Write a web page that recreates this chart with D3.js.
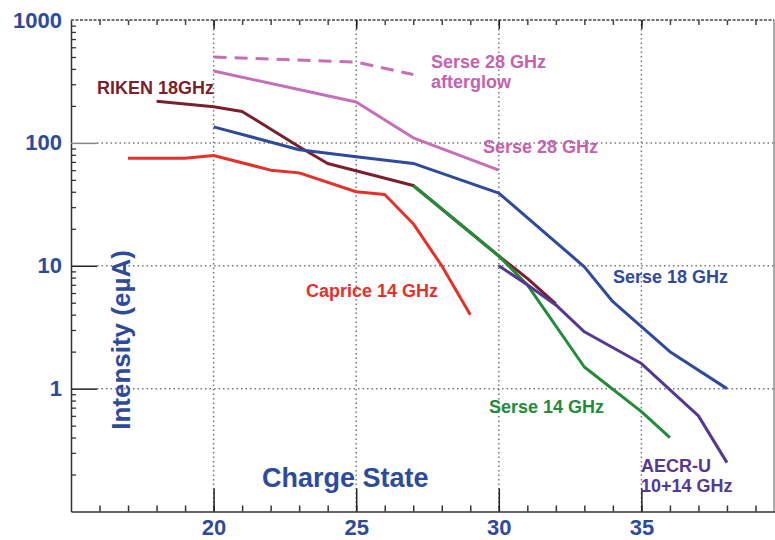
<!DOCTYPE html>
<html><head><meta charset="utf-8">
<script src="https://cdn.jsdelivr.net/npm/d3@7"></script>
<style>
body{margin:0;background:#fff;}
svg{display:block;}
text{font-family:"Liberation Sans",Arial,sans-serif;font-weight:bold;}
</style></head>
<body><svg id="c" width="775" height="540"></svg>
<script>
// ---- data ----
const xMinorTicks = [16,17,18,19,20,21,22,23,24,25,26,27,28,29,30,31,32,33,34,35,36,37,38,39];
const xMajorTicks = [20,25,30,35];
const yMajorTicks = [1,10,100,1000];
const yGridTicks = [1,10,100];

const afterglowQ = [20,25,27];
const afterglowI = [500,455,360];
const serse28Q = [20,25,27,30];
const serse28I = [385,215,110,60];
const rikenQ = [18,20,21,23,24,27,30,31,32];
const rikenI = [218,197,180,93,68,45,12,7.9,4.9];
const serse18Q = [20,23,25,27,30,33,34,35,36,38];
const serse18I = [135,88,77,68,39,9.8,5.1,3.2,2.0,1.0];
const capriceQ = [17,19,20,22,23,25,26,27,28,29];
const capriceI = [75,75,79,60,57,40,38,22,10,4];
const serse14Q = [27,30,31,33,35,36];
const serse14I = [45,12,7,1.5,0.65,0.4];
const aecrQ = [30,31,32,33,35,37,38];
const aecrI = [10,7,4.8,2.9,1.6,0.6,0.25];

const axisBlue = "#2e4b9b";
const series = [
  {q:capriceQ, v:capriceI, color:"#e6302b"},
  {q:rikenQ, v:rikenI, color:"#7a1f2b"},
  {q:serse18Q, v:serse18I, color:"#2f4a9c"},
  {q:serse14Q, v:serse14I, color:"#238b3a"},
  {q:aecrQ, v:aecrI, color:"#553894"},
  {q:serse28Q, v:serse28I, color:"#c46fb7"},
  {q:afterglowQ, v:afterglowI, color:"#c46fb7", dash:"13,8"}
];
const labels = [
  {t:["RIKEN 18GHz"], x:97, y:94, color:"#7a1f2b"},
  {t:["Serse 28 GHz","afterglow"], x:431, y:68, color:"#c462b0"},
  {t:["Serse 28 GHz"], x:483, y:153, color:"#c462b0"},
  {t:["Serse 18 GHz"], x:613, y:283, color:"#2f4a9c"},
  {t:["Caprice 14 GHz"], x:306, y:297, color:"#e6302b"},
  {t:["Serse 14 GHz"], x:489, y:413, color:"#238b3a"},
  {t:["AECR-U","10+14 GHz"], x:641, y:472, color:"#553894"}
];

// ---- chart ----
const svg = d3.select("#c");
const x = d3.scaleLinear().domain([15,40]).range([71,784]);
const y = d3.scaleLog().domain([0.1,1000]).range([511.5,20]);
const L = x(15), R = 774, T = y(1000), B = y(0.1);

// grid
const g = svg.append("g");
g.selectAll(".vg").data(xMajorTicks).enter().append("line")
  .attr("x1",d=>x(d)).attr("x2",d=>x(d)).attr("y1",T).attr("y2",B)
  .attr("stroke","#777").attr("stroke-width",1.5).attr("stroke-dasharray","1.5,3");
g.selectAll(".hg").data(yGridTicks).enter().append("line")
  .attr("x1",L+26).attr("x2",R).attr("y1",d=>y(d)).attr("y2",d=>y(d))
  .attr("stroke","#777").attr("stroke-width",1.5).attr("stroke-dasharray","1.5,3");

// frame top and right
svg.append("line").attr("x1",L).attr("x2",R).attr("y1",T).attr("y2",T)
  .attr("stroke","#444").attr("stroke-width",1.5).attr("stroke-dasharray","3,1.5");
svg.append("line").attr("x1",R).attr("x2",R).attr("y1",T).attr("y2",B)
  .attr("stroke","#555").attr("stroke-width",1);
// top minor ticks
svg.append("g").attr("transform",`translate(0,${T})`)
  .call(d3.axisTop(x).tickValues(xMinorTicks).tickSize(-5).tickFormat(""))
  .call(a=>{a.select(".domain").remove();a.selectAll("line").attr("stroke","#444").attr("stroke-width",1.5);});
svg.append("g").attr("transform",`translate(0,${T})`)
  .call(d3.axisTop(x).tickValues(xMajorTicks).tickSize(-9).tickFormat(""))
  .call(a=>{a.select(".domain").remove();a.selectAll("line").attr("stroke","#222").attr("stroke-width",1.5);});

// bottom axis
const bx = svg.append("g").attr("transform",`translate(0,${B})`);
bx.call(d3.axisBottom(x).tickValues(xMinorTicks).tickSizeInner(-6).tickSizeOuter(0).tickFormat(""))
  .call(a=>{a.select(".domain").attr("stroke","#333").attr("stroke-width",1.5);a.selectAll("line").attr("stroke","#333").attr("stroke-width",1.5);});
svg.append("g").attr("transform",`translate(0,${B})`)
  .call(d3.axisBottom(x).tickValues(xMajorTicks).tickSizeInner(-23).tickSizeOuter(0).tickPadding(8).tickFormat(d3.format("d")))
  .call(a=>{a.select(".domain").remove();a.selectAll("line").attr("stroke","#222").attr("stroke-width",1.5);
    a.selectAll("text").attr("fill",axisBlue).style("font-size","22px").style("font-weight","bold").style("font-family","Liberation Sans, Arial, sans-serif");});

// left axis
const minorY = [];
[0.1,1,10,100].forEach(b=>{for(let k=2;k<=9;k++) minorY.push(b*k);});
svg.append("g").attr("transform",`translate(${L},0)`)
  .call(d3.axisLeft(y).tickValues(minorY).tickSizeInner(-5).tickSizeOuter(0).tickFormat(""))
  .call(a=>{a.select(".domain").attr("stroke","#333").attr("stroke-width",1.5);a.selectAll("line").attr("stroke","#333").attr("stroke-width",1.3);});
svg.append("g").attr("transform",`translate(${L},0)`)
  .call(d3.axisLeft(y).tickValues(yMajorTicks).tickSizeInner(-26).tickSizeOuter(0).tickPadding(9).tickFormat(d3.format("d")))
  .call(a=>{a.select(".domain").remove();
    a.selectAll("line").attr("stroke",d=>d===100?"#888":"#222").attr("stroke-width",1.5).attr("opacity",d=>d===1000?0:1);
    a.selectAll("text").attr("fill",axisBlue).style("font-size","22px").style("font-weight","bold").style("font-family","Liberation Sans, Arial, sans-serif");});

// lines
const line = d3.line().x(d=>x(d[0])).y(d=>y(d[1]));
series.forEach(s=>{
  svg.append("path").datum(s.q.map((q,i)=>[q,s.v[i]]))
    .attr("d",line).attr("fill","none").attr("stroke",s.color)
    .attr("stroke-width",3).attr("stroke-linejoin","round")
    .attr("stroke-dasharray",s.dash||null);
});

// labels
labels.forEach(l=>{
  const t = svg.append("text").attr("x",l.x).attr("y",l.y).attr("fill",l.color).style("font-size","18px");
  l.t.forEach((s,i)=>t.append("tspan").attr("x",l.x).attr("dy",i?20:0).text(s));
});

// axis titles
svg.append("text").attr("x",262).attr("y",487).attr("fill",axisBlue).style("font-size","27px").text("Charge State");
svg.append("text").attr("transform","translate(130,340) rotate(-90)").attr("text-anchor","middle")
  .attr("fill",axisBlue).style("font-size","26px").text("Intensity (eµA)");
</script></body></html>
